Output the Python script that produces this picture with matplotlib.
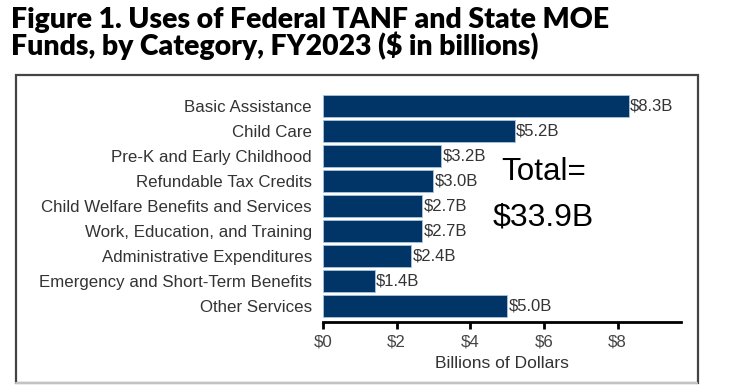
import matplotlib.pyplot as plt
from matplotlib.patches import Rectangle

categories = ['Basic Assistance', 'Child Care', 'Pre-K and Early Childhood',
              'Refundable Tax Credits', 'Child Welfare Benefits and Services',
              'Work, Education, and Training', 'Administrative Expenditures',
              'Emergency and Short-Term Benefits', 'Other Services']
values = [8.3, 5.2, 3.2, 3.0, 2.7, 2.7, 2.4, 1.4, 5.0]
xticks = [0, 2, 4, 6, 8]
xticklabels = ['$0', '$2', '$4', '$6', '$8']
total_top = 'Total='
total_bottom = '$33.9B'

W, H = 730, 385
fig = plt.figure(figsize=(W / 100, H / 100), dpi=100)
plt.rcParams['font.family'] = ['Liberation Sans', 'DejaVu Sans']

# title
fig.text(11 / W, 1 - 28 / H, 'Figure 1. Uses of Federal TANF and State MOE',
         fontsize=20.4, fontweight='heavy', family='Lato', ha='left', va='baseline')
fig.text(11 / W, 1 - 55 / H, 'Funds, by Category, FY2023 ($ in billions)',
         fontsize=20.4, fontweight='heavy', family='Lato', ha='left', va='baseline')

# frame around the chart
fig.add_artist(Rectangle((15.5 / W, 1 - 383 / H), (697.7 - 15.5) / W, (383 - 74.5) / H,
                         transform=fig.transFigure, fill=False, edgecolor='#444444',
                         linewidth=1.6))
fig.add_artist(plt.Line2D([16 / W, 697 / W], [1 - 383 / H, 1 - 383 / H],
                          transform=fig.transFigure, color='#dddddd', linewidth=1.2))

left, right = 323 / W, 681 / W
bottom, top = 1 - 322 / H, 1 - 93.4 / H
ax = fig.add_axes([left, bottom, right - left, top - bottom])

ypos = list(range(len(categories)))
ax.barh(ypos, values, height=0.9, color='#023567', edgecolor='#a9c4dd', linewidth=0.6)
for y, v in zip(ypos, values):
    ax.text(v + 0.04, y, f'${v:.1f}B', va='center', ha='left', fontsize=12, color='#333333')

ax.set_xlim(0, 9.72)
ax.set_ylim(8.64, -0.5)
ax.set_yticks(ypos)
ax.set_yticklabels(categories, fontsize=12.2, color='#333333')
ax.tick_params(axis='y', length=0, pad=8)
ax.set_xticks(xticks)
ax.set_xticklabels(xticklabels, fontsize=12.2, color='#444444')
ax.tick_params(axis='x', length=5, width=2, color='black', pad=4)
ax.set_xlabel('Billions of Dollars', fontsize=12.5, color='#333333', labelpad=5)

for s in ['top', 'right', 'left']:
    ax.spines[s].set_visible(False)
ax.spines['bottom'].set_linewidth(2)

ax.text(5.98, 2.63, total_top, fontsize=22.6, ha='center', va='center', color='black')
ax.text(5.98, 4.47, total_bottom, fontsize=23, ha='center', va='center', color='black')

fig.savefig('out.png', dpi=100)
